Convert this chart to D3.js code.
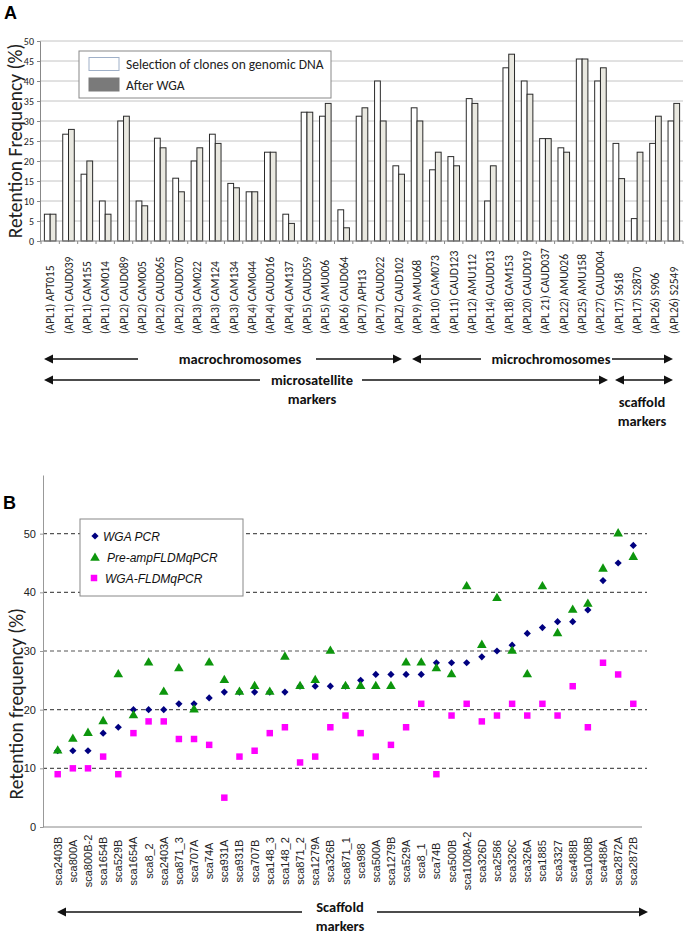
<!DOCTYPE html>
<html><head><meta charset="utf-8">
<script src="https://cdn.jsdelivr.net/npm/d3@7"></script>
<style>body{margin:0;background:#fff}svg{display:block}</style>
</head><body>
<script>
// ---------- Panel A data ----------
const labelsA = ["(APL1) APT015","(APL1) CAUD039","(APL1) CAM155","(APL1) CAM014","(APL2) CAUD089","(APL2) CAM005","(APL2) CAUD065","(APL2) CAUD070","(APL3) CAM022","(APL3) CAM124","(APL3) CAM134","(APL4) CAM044","(APL4) CAUD016","(APL4) CAM137","(APL5) CAUD059","(APL5) AMU006","(APL6) CAUD064","(APL7) APH13","(APL7) CAUD022","(APLZ) CAUD102","(APL9) AMU068","(APL10) CAM073","(APL11) CAUD123","(APL12) AMU112","(APL14) CAUD013","(APL18) CAM153","(APL20) CAUD019","(APL 21) CAUD037","(APL22) AMU026","(APL25) AMU158","(APL27) CAUD004","(APL17) S618","(APL17) S2870","(APL26) S906","(APL26) S2549"];
const genomicDNA = [6.7,26.7,16.7,10,30,10,25.7,15.7,20,26.7,14.4,12.3,22.2,6.7,32.2,31.2,7.8,31.2,40,18.8,33.3,17.8,21.1,35.6,10,43.3,40,25.6,23.3,45.5,40,24.4,5.6,24.4,30];
const afterWGA = [6.7,27.9,20,6.7,31.2,8.8,23.3,12.3,23.3,24.4,13.3,12.3,22.2,4.4,32.2,34.4,3.3,33.3,30,16.7,30,22.2,18.8,34.4,18.8,46.7,36.7,25.6,22.2,45.5,43.3,15.6,22.2,31.2,34.4];
const seriesA = ["Selection of clones on genomic DNA","After WGA"];
const yTicksA = [0,5,10,15,20,25,30,35,40,45,50];

// ---------- Panel B data ----------
const labelsB = ["sca2403B","sca800A","sca800B-2","sca1654B","sca529B","sca1654A","sca8_2","sca2403A","sca871_3","sca707A","sca74A","sca931A","sca931B","sca707B","sca148_3","sca148_2","sca871_2","sca1279A","sca326B","sca871_1","sca988","sca500A","sca1279B","sca529A","sca8_1","sca74B","sca500B","sca1008A-2","sca326D","sca2586","sca326C","sca326A","sca1885","sca3327","sca488B","sca1008B","sca488A","sca2872A","sca2872B"];
const wgaPCR = [13,13,13,16,17,20,20,20,21,21,22,23,23,23,23,23,24,24,24,24,25,26,26,26,26,28,28,28,29,30,31,33,34,35,35,37,42,45,48];
const preAmp = [13,15,16,18,26,19,28,23,27,20,28,25,23,24,23,29,24,25,30,24,24,24,24,28,28,27,26,41,31,39,30,26,41,33,37,38,44,50,46];
const wgaFLDM = [9,10,10,12,9,16,18,18,15,15,14,5,12,13,16,17,11,12,17,19,16,12,14,17,21,9,19,21,18,19,21,19,21,19,24,17,28,26,21];
const seriesB = ["WGA PCR","Pre-ampFLDMqPCR","WGA-FLDMqPCR"];
const yTicksB = [0,10,20,30,40,50];

const W = 685, H = 940;
const FONT = "Carlito, Lato, 'Open Sans', sans-serif";
const svg = d3.select("body").append("svg").attr("width", W).attr("height", H)
  .style("font-family", FONT);

function arrowHead(g, x, y, dir) {
  const L = 9, h = 4.5;
  g.append("path").attr("d", `M${x},${y}L${x - dir*L},${y - h}L${x - dir*L},${y + h}Z`).attr("fill", "#111");
}
function arrow(g, x1, x2, y, left, right) {
  g.append("line").attr("x1", x1 + (left ? 6 : 0)).attr("x2", x2 - (right ? 6 : 0))
    .attr("y1", y).attr("y2", y).attr("stroke", "#111").attr("stroke-width", 1.6);
  if (left) arrowHead(g, x1, y, -1);
  if (right) arrowHead(g, x2, y, 1);
}

// ================= PANEL A =================
const gA = svg.append("g");
gA.append("text").attr("x", 4).attr("y", 19).text("A")
  .attr("font-size", 18).attr("font-weight", "bold").attr("font-family", "Liberation Sans, Arial, sans-serif");

const yA = d3.scaleLinear().domain([0, 50]).range([241, 41]);
const xA = d3.scaleBand().domain(labelsA).range([41, 683]).paddingInner(0.37).paddingOuter(0.185);
const xSubA = d3.scaleBand().domain(seriesA).range([0, xA.bandwidth()]);

gA.append("g").selectAll("line").data(yTicksA.filter(d => d > 0)).join("line")
  .attr("x1", 40).attr("x2", 683).attr("y1", d => yA(d)).attr("y2", d => yA(d))
  .attr("stroke", "#c4c4c4").attr("stroke-width", 1);

const yAxisA = gA.append("g").attr("transform", "translate(40,0)")
  .call(d3.axisLeft(yA).tickValues(yTicksA).tickSize(3).tickPadding(3));
yAxisA.select(".domain").attr("stroke", "#888");
yAxisA.selectAll(".tick line").attr("stroke", "#888");
yAxisA.selectAll("text").attr("font-size", 10).attr("fill", "#222").attr("font-family", FONT);

const barsA = labelsA.map((l, i) => ({ label: l, vals: [genomicDNA[i], afterWGA[i]] }));
const grp = gA.append("g").selectAll("g").data(barsA).join("g")
  .attr("transform", d => `translate(${xA(d.label)},0)`);
grp.selectAll("rect").data(d => d.vals.map((v, k) => ({ s: seriesA[k], v }))).join("rect")
  .attr("x", d => xSubA(d.s)).attr("width", xSubA.bandwidth())
  .attr("y", d => yA(d.v)).attr("height", d => yA(0) - yA(d.v))
  .attr("fill", d => d.s === seriesA[0] ? "#ffffff" : "#e9e8e0")
  .attr("stroke", "#2a2a2a").attr("stroke-width", 1);

const xAxisA = gA.append("g").attr("transform", `translate(0,${yA(0)})`);
xAxisA.append("line").attr("x1", 40).attr("x2", 683).attr("stroke", "#888");
const bounds = labelsA.map((l, i) => 41 + i * xA.step()).concat([683]);
xAxisA.selectAll("line.tk").data(bounds).join("line").attr("class", "tk")
  .attr("x1", d => d).attr("x2", d => d).attr("y1", 0).attr("y2", 3).attr("stroke", "#888");
gA.append("g").selectAll("text").data(labelsA).join("text")
  .attr("transform", d => `translate(${xA(d) + xA.bandwidth() / 2 + 4},334) rotate(-90)`)
  .attr("text-anchor", "start").attr("font-size", 11.5).attr("fill", "#222").text(d => d);

gA.append("text").attr("transform", `translate(22,${yA(25)}) rotate(-90)`)
  .attr("text-anchor", "middle").attr("font-size", 19.5).attr("fill", "#222")
  .text("Retention Frequency (%)");

const lgA = gA.append("g");
lgA.append("rect").attr("x", 79).attr("y", 51).attr("width", 252).attr("height", 47)
  .attr("fill", "#fff").attr("stroke", "#888");
lgA.append("rect").attr("x", 89).attr("y", 57.5).attr("width", 30).attr("height", 13)
  .attr("fill", "#fff").attr("stroke", "#9fb0c8");
lgA.append("rect").attr("x", 89).attr("y", 78).attr("width", 30).attr("height", 13)
  .attr("fill", "#7a7a7a").attr("stroke", "#7a7a7a");
lgA.append("text").attr("x", 126).attr("y", 69).attr("font-size", 13.5).attr("fill", "#222").text(seriesA[0]);
lgA.append("text").attr("x", 126).attr("y", 89.5).attr("font-size", 13.5).attr("fill", "#222").text(seriesA[1]);

const anA = gA.append("g");
arrow(anA, 44, 138, 359, true, false);
arrow(anA, 316, 402, 359, false, true);
arrow(anA, 412, 481, 359, true, false);
arrow(anA, 612, 673, 359, false, true);
arrow(anA, 44, 260, 380, true, false);
arrow(anA, 362, 608, 380, false, true);
arrow(anA, 615, 673, 380, true, true);
const bold = (g, x, y, t) => g.append("text").attr("x", x).attr("y", y).attr("text-anchor", "middle")
  .attr("font-size", 14.5).attr("font-weight", "bold").attr("fill", "#111").text(t);
bold(anA, 240, 364, "macrochromosomes");
bold(anA, 551, 364, "microchromosomes");
bold(anA, 312, 385, "microsatellite");
bold(anA, 312, 404, "markers");
bold(anA, 642, 407, "scaffold");
bold(anA, 642, 426, "markers");

// ================= PANEL B =================
const gB = svg.append("g");
gB.append("text").attr("x", 3).attr("y", 509).text("B")
  .attr("font-size", 18).attr("font-weight", "bold").attr("font-family", "Liberation Sans, Arial, sans-serif");

const yB = d3.scaleLinear().domain([0, 60]).range([827, 475]);
const xB = d3.scalePoint().domain(labelsB).range([57.7, 633.3]);

gB.append("g").selectAll("line").data(yTicksB.filter(d => d > 0)).join("line")
  .attr("x1", 43).attr("x2", 647).attr("y1", d => yB(d)).attr("y2", d => yB(d))
  .attr("stroke", "#555").attr("stroke-width", 1.2).attr("stroke-dasharray", "4,3");

const yAxisB = gB.append("g").attr("transform", "translate(43,0)")
  .call(d3.axisLeft(yB).tickValues(yTicksB).tickSize(3).tickPadding(4).tickSizeOuter(0));
yAxisB.select(".domain").attr("stroke", "#999");
yAxisB.selectAll(".tick line").attr("stroke", "#999");
yAxisB.selectAll("text").attr("font-size", 11).attr("fill", "#222").attr("font-family", "Liberation Sans, Arial, sans-serif");

gB.append("line").attr("x1", 43).attr("x2", 642).attr("y1", yB(0)).attr("y2", yB(0)).attr("stroke", "#888");

gB.append("g").selectAll("text").data(labelsB).join("text")
  .attr("transform", d => `translate(${xB(d) + 4},861) rotate(-90)`)
  .attr("text-anchor", "middle").attr("font-size", 11).attr("fill", "#222")
  .attr("font-family", "Liberation Sans, Arial, sans-serif").text(d => d);

gB.append("text").attr("transform", `translate(23,${yB(21)}) rotate(-90)`)
  .attr("text-anchor", "middle").attr("font-size", 19.5).attr("fill", "#222")
  .text("Retention frequency (%)");

const diamond = d3.symbol().type(d3.symbolSquare).size(26);
const tri = d3.symbol().type(d3.symbolTriangle).size(40);
const sq = d3.symbol().type(d3.symbolSquare).size(42);

gB.append("g").selectAll("path").data(labelsB.map((l, i) => ({ l, v: wgaPCR[i] }))).join("path")
  .attr("d", diamond).attr("transform", d => `translate(${xB(d.l)},${yB(d.v)}) rotate(45)`)
  .attr("fill", "#000080");
gB.append("g").selectAll("path").data(labelsB.map((l, i) => ({ l, v: preAmp[i] }))).join("path")
  .attr("d", tri).attr("transform", d => `translate(${xB(d.l)},${yB(d.v)})`)
  .attr("fill", "#0d960d");
gB.append("g").selectAll("path").data(labelsB.map((l, i) => ({ l, v: wgaFLDM[i] }))).join("path")
  .attr("d", sq).attr("transform", d => `translate(${xB(d.l)},${yB(d.v)})`)
  .attr("fill", "#ff00ff");

const lgB = gB.append("g").attr("font-family", "Liberation Sans, Arial, sans-serif");
lgB.append("rect").attr("x", 80).attr("y", 519).attr("width", 163).attr("height", 77)
  .attr("fill", "#fff").attr("stroke", "#888");
lgB.append("path").attr("d", diamond).attr("transform", "translate(95,536) rotate(45)").attr("fill", "#000080");
lgB.append("path").attr("d", tri).attr("transform", "translate(95,558)").attr("fill", "#0d960d");
lgB.append("path").attr("d", sq).attr("transform", "translate(94,578)").attr("fill", "#ff00ff");
lgB.append("text").attr("x", 103).attr("y", 540.5).attr("font-size", 12).attr("font-style", "italic").attr("fill", "#111").text(seriesB[0]);
lgB.append("text").attr("x", 107).attr("y", 562).attr("font-size", 12).attr("font-style", "italic").attr("fill", "#111").text(seriesB[1]);
lgB.append("text").attr("x", 105).attr("y", 582.5).attr("font-size", 12).attr("font-style", "italic").attr("fill", "#111").text(seriesB[2]);

const anB = gB.append("g");
arrow(anB, 57, 302, 912, true, false);
arrow(anB, 377, 648, 912, false, true);
bold(anB, 340, 912, "Scaffold");
bold(anB, 340, 931, "markers");
</script>
</body></html>
